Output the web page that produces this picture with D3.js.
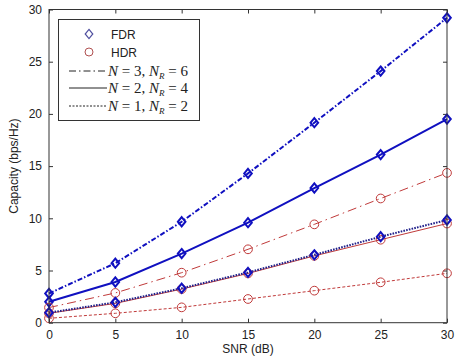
<!DOCTYPE html>
<html>
<head>
<meta charset="utf-8">
<script src="https://cdn.jsdelivr.net/npm/d3@7"></script>
<style>
  body { margin: 0; background: #fff; }
  svg { display: block; font-family: "Liberation Sans", Arial, sans-serif; }
</style>
</head>
<body>
<svg id="chart" width="462" height="360"></svg>
<script>
// SNR in dB
var snr = [0, 5, 10, 15, 20, 25, 30];

// capacity (bps/Hz)
var fdrN3 = [2.8, 5.7, 9.67, 14.3, 19.16, 24.1, 29.2];
var fdrN2 = [2.0, 3.9, 6.62, 9.58, 12.9, 16.1, 19.5];
var fdrN1 = [0.96, 1.95, 3.3, 4.82, 6.5, 8.24, 9.84];
var hdrN3 = [1.45, 2.85, 4.79, 7.03, 9.42, 11.9, 14.35];
var hdrN2 = [0.9, 1.85, 3.22, 4.72, 6.4, 7.95, 9.5];
var hdrN1 = [0.42, 0.9, 1.47, 2.27, 3.07, 3.87, 4.73];

var xTicks = [0, 5, 10, 15, 20, 25, 30];
var yTicks = [0, 5, 10, 15, 20, 25, 30];

var blue = "#1010c0", red = "#c03a3a";

var series = [
  {vals: fdrN3, color: blue, width: 2, dash: "5,2,1.5,2", mark: "d"},
  {vals: fdrN2, color: blue, width: 2, dash: null, mark: "d"},
  {vals: hdrN3, color: red, width: 1, dash: "9,4,1.5,4", mark: "o"},
  {vals: hdrN2, color: red, width: 1, dash: null, mark: "o"},
  {vals: hdrN1, color: red, width: 1, dash: "3,2", mark: "o"},
  {vals: fdrN1, color: "#20208a", width: 2, dash: "1.6,1.2", mark: "d"}
];

var margin = {top: 9.5, right: 15, bottom: 37.3, left: 49},
    width = 462 - margin.left - margin.right,
    height = 360 - margin.top - margin.bottom;

var svg = d3.select("#chart");
var g = svg.append("g")
    .attr("transform", "translate(" + margin.left + "," + margin.top + ")");

var x = d3.scaleLinear().domain([0, 30]).range([0, width]);
var y = d3.scaleLinear().domain([0, 30]).range([height, 0]);

// axes, ticks pointing inward on all four sides
var axisColor = "#333";
function styleAxis(sel) {
  sel.select(".domain").remove();
  sel.selectAll("line").attr("stroke", axisColor);
  sel.selectAll("text").attr("fill", "#222").style("font-size", "12px");
}
g.append("g").attr("transform", "translate(0," + height + ")")
  .call(d3.axisBottom(x).tickValues(xTicks).tickSize(-4).tickPadding(8))
  .call(styleAxis);
g.append("g")
  .call(d3.axisLeft(y).tickValues(yTicks).tickSize(-4).tickPadding(7))
  .call(styleAxis);
g.append("g")
  .call(d3.axisTop(x).tickValues(xTicks).tickSize(-4).tickFormat(""))
  .call(styleAxis);
g.append("g").attr("transform", "translate(" + width + ",0)")
  .call(d3.axisRight(y).tickValues(yTicks).tickSize(-4).tickFormat(""))
  .call(styleAxis);

var diamond = "M0,-4.6L3.8,0L0,4.6L-3.8,0Z";

var line = d3.line()
    .x(function(d, i) { return x(snr[i]); })
    .y(function(d) { return y(d); });

series.forEach(function(s) {
  g.append("path")
    .datum(s.vals)
    .attr("fill", "none")
    .attr("stroke", s.color)
    .attr("stroke-width", s.width)
    .attr("stroke-dasharray", s.dash)
    .attr("d", line);
});

series.forEach(function(s) {
  var pts = g.append("g").selectAll("path").data(s.vals).join("path");
  if (s.mark === "d") {
    pts.attr("d", diamond)
      .attr("fill", "none")
      .attr("stroke", blue)
      .attr("stroke-width", 2);
  } else {
    pts.attr("d", d3.symbol().type(d3.symbolCircle).size(60))
      .attr("fill", "none")
      .attr("stroke", red)
      .attr("stroke-width", 1);
  }
  pts.attr("transform", function(d, i) {
    return "translate(" + x(snr[i]) + "," + y(d) + ")";
  });
});

// frame
g.append("rect")
  .attr("width", width).attr("height", height)
  .attr("fill", "none").attr("stroke", axisColor).attr("stroke-width", 1);

// axis labels
svg.append("text")
  .attr("x", margin.left + width / 2).attr("y", 353)
  .attr("text-anchor", "middle").style("font-size", "12px").attr("fill", "#222")
  .text("SNR (dB)");
svg.append("text")
  .attr("transform", "translate(18," + (margin.top + height / 2) + ") rotate(-90)")
  .attr("text-anchor", "middle").style("font-size", "12px").attr("fill", "#222")
  .text("Capacity (bps/Hz)");

// legend
var leg = svg.append("g");
leg.append("rect")
  .attr("x", 58.5).attr("y", 19.5).attr("width", 141).attr("height", 101)
  .attr("fill", "#fff").attr("stroke", "#333").attr("stroke-width", 1);
leg.append("path").attr("d", diamond)
  .attr("transform", "translate(89,34)")
  .attr("fill", "none").attr("stroke", "#5050a0").attr("stroke-width", 1.2);
leg.append("text").attr("x", 111).attr("y", 38.5).style("font-size", "12px").attr("fill", "#222").text("FDR");
leg.append("circle").attr("cx", 89).attr("cy", 52).attr("r", 4)
  .attr("fill", "none").attr("stroke", "#b05050").attr("stroke-width", 1);
leg.append("text").attr("x", 111).attr("y", 56.5).style("font-size", "12px").attr("fill", "#222").text("HDR");

var legLines = [
  {y: 71, dash: "7,3,1.5,3", n: "3", nr: "6"},
  {y: 88, dash: null, n: "2", nr: "4"},
  {y: 106, dash: "2,1.5", n: "1", nr: "2"}
];
legLines.forEach(function(l) {
  leg.append("line")
    .attr("x1", 69).attr("x2", 107).attr("y1", l.y).attr("y2", l.y)
    .attr("stroke", "#222").attr("stroke-width", 1)
    .attr("stroke-dasharray", l.dash);
  var t = leg.append("text")
    .attr("x", 108).attr("y", l.y + 5)
    .style("font-family", "'Liberation Serif', 'Times New Roman', serif")
    .style("font-size", "15px").attr("fill", "#222");
  t.append("tspan").style("font-style", "italic").text("N");
  t.append("tspan").text(" = " + l.n + ", ");
  t.append("tspan").style("font-style", "italic").text("N");
  t.append("tspan").style("font-style", "italic").style("font-size", "9px").attr("dy", 3).text("R");
  t.append("tspan").attr("dy", -3).text(" = " + l.nr);
});
</script>
</body>
</html>
